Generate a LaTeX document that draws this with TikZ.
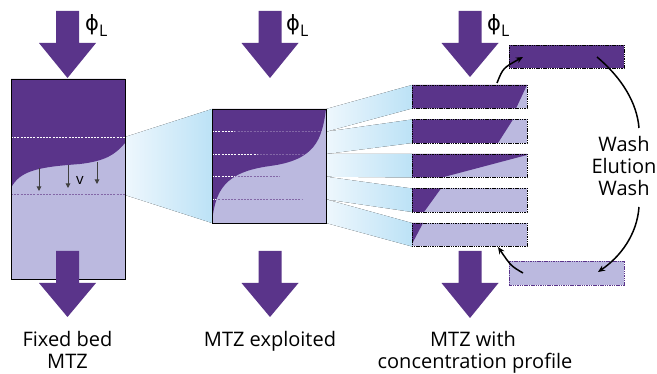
\documentclass[tikz,border=0pt]{standalone}
\usepackage{fontspec}
\setmainfont{Open Sans}
\newfontfamily\symfont{DejaVu Sans}
\usetikzlibrary{arrows.meta}
\definecolor{dpurple}{RGB}{90,52,138}
\definecolor{lpurple}{RGB}{187,185,223}
\definecolor{fanl}{RGB}{238,247,253}
\definecolor{fanr}{RGB}{188,226,246}
\newcommand\blockarr[3]{%
  \fill[dpurple] (#1-11.5,#2) -- (#1+11.5,#2) -- (#1+11.5,#2+32) -- (#1+28.5,#2+32)
    -- (#1,#3) -- (#1-28.5,#2+32) -- (#1-11.5,#2+32) -- cycle;}
\newcommand\phiL{{\symfont\fontsize{21}{21}\selectfont ϕ}\raisebox{-5.5pt}{\fontsize{16}{16}\selectfont L}}
\begin{document}
\begin{tikzpicture}[x=1pt,y=-1pt,
  fan/.style={left color=fanl, right color=fanr, draw=none},
  wdash/.style={white, line width=0.6pt, dash pattern=on 2pt off 1.2pt},
  pdash/.style={dpurple!75, line width=0.8pt, dash pattern=on 2pt off 1.2pt},
  slicebox/.style={black, line width=0.6pt, dash pattern=on 1.5pt off 0.8pt},
  varrow/.style={black!75, line width=1pt, -{Triangle[length=4.5pt,width=4.5pt]}},
  cycarrow/.style={black, line width=1.5pt, -{Stealth[length=7pt,width=6pt]}},
  cycline/.style={black, line width=1.5pt},
  lbl/.style={font=\fontsize{20}{22}\selectfont, inner sep=0pt, anchor=base},
  phil/.style={inner sep=0pt, anchor=base west}]
\useasboundingbox (0,0) rectangle (657,374);

% ---------- fans ----------
\fill[fan] (125,137) -- (212,109) -- (212,223) -- (125,195) -- cycle;
\fill[fan] (326,109) -- (412,85) -- (412,108.5) -- (326,131.7) -- cycle;
\fill[fan] (326,131.7) -- (412,119.5) -- (412,143) -- (326,154) -- cycle;
\fill[fan] (326,154) -- (412,154) -- (412,177.5) -- (326,176.7) -- cycle;
\fill[fan] (326,176.7) -- (412,188.5) -- (412,212) -- (326,199.3) -- cycle;
\fill[fan] (326,199.3) -- (412,223) -- (412,246.5) -- (326,223) -- cycle;

% ---------- fixed bed ----------
\fill[lpurple] (11,79) rectangle (125,279);
\fill[dpurple] (11,79) -- (125,79) -- (125,143) .. controls (115,155) and (105,161) .. (80,164)
  .. controls (40,167) and (20,170) .. (11,188) -- cycle;
\draw[wdash] (11,137) -- (125,137);
\draw[pdash] (11,194.7) -- (125,194.7);
\draw[line width=0.8pt] (11,79) rectangle (125,279);
\draw[varrow] (39,168) -- (39,191);
\draw[varrow] (68,165) -- (68,188);
\draw[varrow] (97,162) -- (97,184);
\node[inner sep=0pt, font=\fontsize{15}{15}\selectfont] (v) at (80,180) {v};

% ---------- exploited MTZ ----------
\fill[lpurple] (212,109) rectangle (326,223);
\def\midcurve{(212,109) -- (326,109) .. controls (322,140) and (315,160) .. (270,166)
  .. controls (225,172) and (215,190) .. (212,223) -- cycle}
\fill[dpurple] \midcurve;
\begin{scope}
  \clip \midcurve;
  \foreach \yy in {131.7,154,176.7,199.3} \draw[wdash] (212,\yy) -- (326,\yy);
\end{scope}
\begin{scope}
  \clip (212,109) -- (326,109) .. controls (322,140) and (315,160) .. (270,166)
  .. controls (225,172) and (215,190) .. (212,223) -- (326,223) -- cycle;
  \foreach \yy in {131.7,154,176.7,199.3} \draw[pdash] (212,\yy) -- (326,\yy);
\end{scope}
\draw[line width=0.8pt] (212,109) rectangle (326,223);

% ---------- slices ----------
\fill[lpurple] (412,85) rectangle (527,108.5);
\fill[dpurple] (412,85) -- (527,85) -- (516,108.5) -- (412,108.5) -- cycle;
\fill[lpurple] (412,119.5) rectangle (527,143);
\fill[dpurple] (412,119.5) -- (513,119.5) -- (498,143) -- (412,143) -- cycle;
\fill[lpurple] (412,154) rectangle (527,177.5);
\fill[dpurple] (412,154) -- (527,154) -- (527,155) -- (442,177.5) -- (412,177.5) -- cycle;
\fill[lpurple] (412,188.5) rectangle (527,212);
\fill[dpurple] (412,188.5) -- (441,188.5) -- (424,212) -- (412,212) -- cycle;
\fill[lpurple] (412,223) rectangle (527,246.5);
\fill[dpurple] (412,223) -- (423,223) -- (412,244) -- cycle;
\foreach \yy in {85,119.5,154,188.5,223}
  \draw[slicebox] (412,\yy) rectangle (527,\yy+23.5);

% ---------- elution boxes ----------
\fill[dpurple] (509,45) rectangle (624,68.5);
\draw[slicebox] (509,45) rectangle (624,68.5);
\fill[lpurple] (509,261) rectangle (624,285);
\draw[slicebox, dpurple] (509,261) rectangle (624,285);

% ---------- cycle arrows ----------
\coordinate (c1a) at (497,83);
\coordinate (c1b) at (523,57);
\coordinate (c2a) at (597,57);
\coordinate (c2b) at (639,128);
\coordinate (c3a) at (639,207);
\coordinate (c3b) at (598,272);
\coordinate (c4a) at (523,273);
\coordinate (c4b) at (498,247);
\draw[cycarrow] (c1a) .. controls (503,68) .. (c1b);
\draw[cycline] (c2a) .. controls (622,78) and (637,103) .. (c2b);
\draw[cycarrow] (c3a) .. controls (637,235) and (620,257) .. (c3b);
\draw[cycarrow] (c4a) .. controls (511,266) .. (c4b);
\node[lbl] (wash1) at (624,151.5) {Wash};
\node[lbl] (elution) at (624,173.5) {Elution};
\node[lbl] (wash2) at (624,195.5) {Wash};

% ---------- block arrows ----------
\blockarr{67.5}{11}{78}
\blockarr{270}{11}{78}
\blockarr{470}{11}{77}
\blockarr{67.5}{251}{317}
\blockarr{270}{251}{317}
\blockarr{470}{251}{318}

% ---------- phi labels ----------
\node[phil] (phi1) at (85,31) {\phiL};
\node[phil] (phi2) at (286,31) {\phiL};
\node[phil] (phi3) at (487,31) {\phiL};

% ---------- captions ----------
\node[lbl] (cap1a) at (67.5,346.5) {Fixed bed};
\node[lbl] (cap1b) at (67.5,369) {MTZ};
\node[lbl] (cap2) at (270,346.5) {MTZ exploited};
\node[lbl] (cap3a) at (473,346.5) {MTZ with};
\node[lbl] (cap3b) at (475,369) {concentration profile};
\end{tikzpicture}
\end{document}
